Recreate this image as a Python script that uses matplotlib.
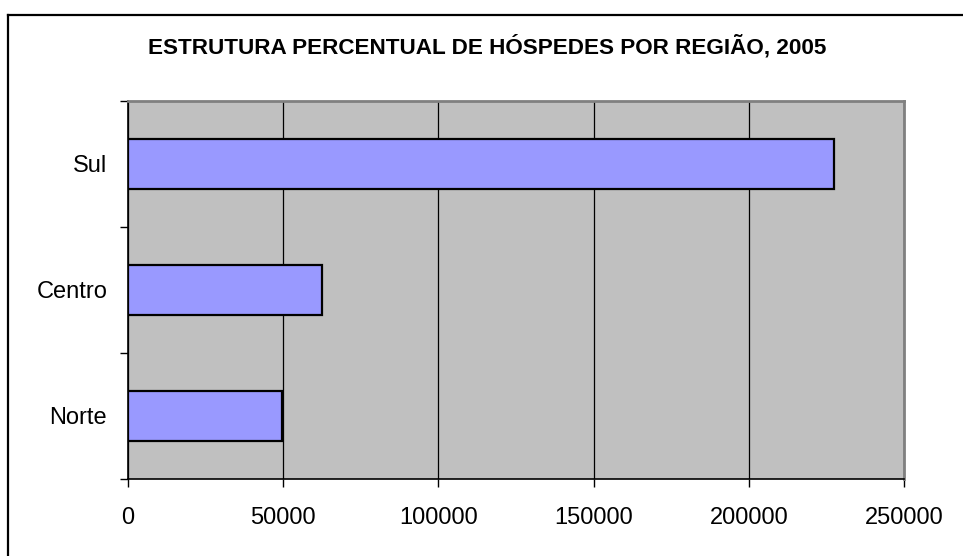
import matplotlib
matplotlib.use("Agg")
import matplotlib.pyplot as plt
from matplotlib.lines import Line2D

categories = ["Norte", "Centro", "Sul"]
values = [49600, 62400, 227500]
x_ticks = [0, 50000, 100000, 150000, 200000, 250000]
title = "ESTRUTURA PERCENTUAL DE HÓSPEDES POR REGIÃO, 2005"

plt.rcParams['font.family'] = ['Liberation Sans', 'DejaVu Sans']

W, H = 963, 556
fig = plt.figure(figsize=(W / 100, H / 100), dpi=100)
ax = fig.add_axes([128 / W, (H - 479) / H, (904 - 128) / W, (479 - 101) / H])
ax.set_facecolor('#C0C0C0')

ypos = list(range(len(categories)))
ax.barh(ypos, values, height=0.4, color='#9999FF', edgecolor='black', linewidth=1.6, zorder=3)

ax.set_xlim(0, 250000)
ax.set_ylim(-0.5, len(categories) - 0.5)
ax.set_xticks(x_ticks)
ax.set_xticklabels([str(v) for v in x_ticks], fontsize=17)
ax.tick_params(axis='x', direction='out', length=6, width=1, pad=14, color='black')
ax.xaxis.grid(True, color='black', linewidth=0.9, zorder=1)
ax.set_axisbelow(True)

ax.set_yticks([i - 0.5 for i in range(len(categories) + 1)])
ax.set_yticklabels([])
ax.set_yticks(ypos, minor=True)
ax.set_yticklabels(categories, minor=True, fontsize=17)
ax.tick_params(axis='y', which='major', direction='out', length=6, width=1)
ax.tick_params(axis='y', which='minor', length=0, pad=15)

for s in ['top', 'right']:
    ax.spines[s].set_color('#808080')
    ax.spines[s].set_linewidth(2)
for s in ['left', 'bottom']:
    ax.spines[s].set_color('black')
    ax.spines[s].set_linewidth(1.2)

fig.text(487.5 / W, 1 - 53.3 / H, title, ha='center', va='baseline', fontsize=16.2, fontweight='bold')

fig.add_artist(Line2D([8 / W, 1.0], [1 - 15 / H, 1 - 15 / H], transform=fig.transFigure, color='black', linewidth=1.6))
fig.add_artist(Line2D([8 / W, 8 / W], [0, 1 - 15 / H], transform=fig.transFigure, color='black', linewidth=1.6))

fig.savefig("out.png", dpi=100)
